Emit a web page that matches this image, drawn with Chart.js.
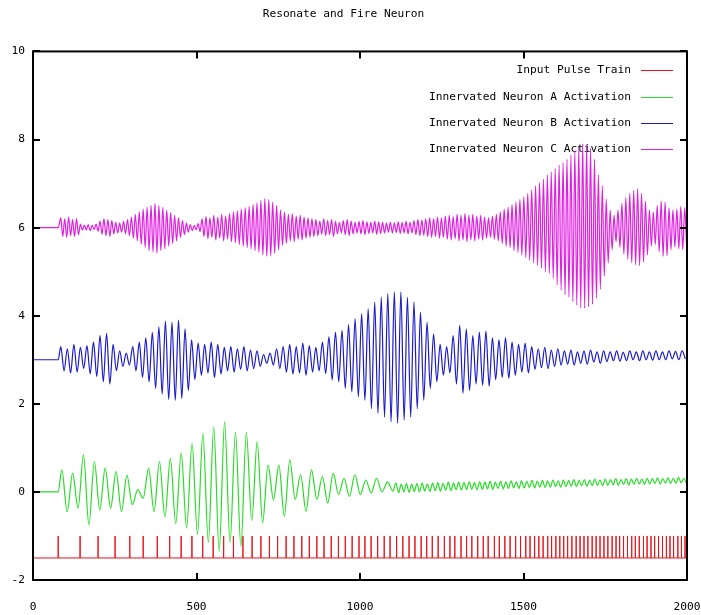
<!DOCTYPE html>
<html>
<head>
<meta charset="utf-8">
<script src="https://cdn.jsdelivr.net/npm/chart.js@4"></script>
<style>
  body { margin: 0; background: #fff; }
  #wrap { width: 701px; height: 615px; position: relative; }
</style>
</head>
<body>
<div id="wrap"><canvas id="chart"></canvas></div>
<script>
const titleText = "Resonate and Fire Neuron";
const seriesLabels = [
  "Input Pulse Train",
  "Innervated Neuron A Activation",
  "Innervated Neuron B Activation",
  "Innervated Neuron C Activation"
];
const seriesColors = ["#e8141a", "#28dc28", "#1a1ac8", "#e020e0"];

const xTicks = [0, 500, 1000, 1500, 2000];
const yTicks = [-2, 0, 2, 4, 6, 8, 10];

// input spikes (time of each pulse), baseline and pulse height
const pulseTimes = [
  77, 144, 199, 251, 296, 337, 380, 418, 453, 486, 519, 551, 583, 613, 642, 670,
  697, 723, 748, 774, 798, 822, 845, 868, 890, 912, 934, 955, 976, 997,
  1015, 1034, 1054, 1074, 1092, 1112, 1131, 1150, 1168, 1187, 1204, 1221, 1239,
  1258, 1275, 1290, 1309, 1326, 1342, 1360, 1377, 1392, 1411, 1426, 1443, 1459,
  1476, 1491, 1507, 1520, 1534, 1547, 1560, 1574, 1586, 1599, 1611, 1623, 1635,
  1648, 1661, 1673, 1685, 1697, 1710, 1722, 1734, 1746, 1758, 1771, 1783, 1794,
  1806, 1818, 1831, 1842, 1854, 1867, 1878, 1890, 1901, 1913, 1925, 1937, 1948,
  1959, 1972, 1983, 1994
];
const pulseBase = -1.5;
const pulseTop = -1.0;

// neuron A: resting level, then peaks/troughs every half period
const restA = 0;
const neuronAStart = 88, neuronAStep = 16.6;
const neuronA = [
  0.50, -0.45, 0.42, -0.37, 0.84, -0.75, 0.69, -0.41, 0.54, -0.37, 0.46, -0.45, 0.38, -0.29, 0.05, -0.14,
  0.54, -0.45, 0.69, -0.57, 0.76, -0.72, 0.88, -0.82, 1.10, -0.97, 1.33, -1.15, 1.47, -1.35, 1.59, -1.15,
  1.36, -1.24, 1.36, -0.65, 1.14, -0.70, 0.61, -0.18, 0.61, -0.55, 0.73, -0.17, 0.39, -0.44, 0.50, -0.17,
  0.35, -0.25, 0.42, -0.06, 0.31, -0.10, 0.39, -0.06, 0.27, -0.02, 0.31, 0.00, 0.23, 0.02
];
const neuronATailStart = 1110, neuronATailStep = 8;
const neuronATail = [
  0.20, -0.02, 0.18, 0.00, 0.19, -0.01, 0.17, 0.01,
  0.19, 0.00, 0.20, 0.02, 0.18, 0.01, 0.20, 0.03,
  0.21, 0.02, 0.19, 0.04, 0.22, 0.03, 0.20, 0.05,
  0.22, 0.04, 0.21, 0.05, 0.23, 0.06, 0.21, 0.05,
  0.23, 0.06, 0.22, 0.07, 0.24, 0.06, 0.22, 0.08,
  0.24, 0.07, 0.23, 0.08, 0.25, 0.09, 0.23, 0.08,
  0.25, 0.09, 0.24, 0.10, 0.26, 0.09, 0.24, 0.11,
  0.26, 0.10, 0.25, 0.11, 0.27, 0.12, 0.25, 0.11,
  0.27, 0.12, 0.26, 0.13, 0.28, 0.12, 0.26, 0.14,
  0.28, 0.13, 0.27, 0.14, 0.29, 0.15, 0.27, 0.14,
  0.29, 0.15, 0.28, 0.16, 0.30, 0.15, 0.28, 0.17,
  0.30, 0.16, 0.29, 0.17, 0.31, 0.18, 0.29, 0.17,
  0.31, 0.18, 0.30, 0.19, 0.32, 0.18, 0.30, 0.20,
  0.32, 0.19, 0.31, 0.20, 0.33, 0.21, 0.31, 0.20
];

// neuron B
const restB = 3;
const neuronBStart = 85, neuronBStep = 10;
const neuronB = [
  3.30, 2.75, 3.25, 2.70, 3.35, 2.72, 3.28, 2.80, 3.32, 2.68, 3.40, 2.62, 3.55, 2.50, 3.60, 2.45,
  3.35, 2.75, 3.20, 2.85, 3.15, 2.88, 3.30, 2.75, 3.40, 2.60, 3.50, 2.50, 3.62, 2.35, 3.75, 2.22,
  3.88, 2.10, 3.85, 2.08, 3.90, 2.12, 3.70, 2.30, 3.45, 2.55, 3.38, 2.65, 3.35, 2.70, 3.40, 2.60,
  3.35, 2.68, 3.28, 2.75, 3.30, 2.72, 3.25, 2.78, 3.30, 2.75, 3.22, 2.80, 3.20, 2.85, 3.12, 2.92,
  3.15, 2.88, 3.25, 2.80, 3.30, 2.72, 3.35, 2.68, 3.30, 2.70, 3.38, 2.65, 3.32, 2.72, 3.28, 2.75,
  3.40, 2.69, 3.52, 2.54, 3.63, 2.50, 3.67, 2.35, 3.80, 2.27, 3.93, 2.16, 4.05, 2.08, 4.16, 1.89,
  4.31, 1.78, 4.42, 1.70, 4.50, 1.59, 4.54, 1.56, 4.54, 1.63, 4.42, 1.70, 4.31, 1.89, 4.08, 2.08,
  3.85, 2.35, 3.59, 2.50, 3.35, 2.65, 3.30, 2.70, 3.55, 2.45, 3.78, 2.24, 3.70, 2.30, 3.55, 2.45,
  3.63, 2.42, 3.65, 2.40, 3.50, 2.55, 3.45, 2.60, 3.50, 2.58, 3.40, 2.65, 3.35, 2.72, 3.38, 2.70,
  3.30, 2.78, 3.25, 2.82, 3.28, 2.80, 3.22, 2.85, 3.25, 2.88, 3.20, 2.90, 3.22, 2.88, 3.18, 2.92,
  3.20, 2.90, 3.22, 2.95, 3.18, 2.92, 3.20, 2.96, 3.18, 2.98, 3.20, 2.97, 3.17, 2.98, 3.20, 3.00,
  3.18, 2.98, 3.20, 3.00, 3.18, 2.99, 3.20, 3.00, 3.18, 3.00, 3.20, 3.02, 3.19, 3.00, 3.20, 3.02
];

// neuron C
const restC = 6;
const neuronCStart = 85, neuronCStep = 6;
const neuronC = [
  6.22, 5.80, 6.20, 5.78, 6.24, 5.82, 6.18, 5.80, 6.20, 5.84,
  6.08, 5.94, 6.06, 5.95, 6.07, 5.93, 6.05, 5.96, 6.08, 5.92,
  6.15, 5.85, 6.20, 5.82, 6.18, 5.80, 6.16, 5.86, 6.12, 5.88, 6.10, 5.90, 6.14, 5.86, 6.18, 5.82,
  6.24, 5.76, 6.30, 5.70, 6.36, 5.62,
  6.42, 5.55, 6.46, 5.48, 6.50, 5.45, 6.55, 5.42, 6.50, 5.48, 6.46, 5.52, 6.40, 5.58,
  6.34, 5.64, 6.28, 5.70, 6.22, 5.78, 6.16, 5.84, 6.10, 5.90,
  6.07, 5.93, 6.05, 5.95, 6.09, 5.91,
  6.20, 5.80, 6.25, 5.75, 6.22, 5.78, 6.28, 5.72, 6.24, 5.76, 6.30, 5.70, 6.26, 5.74, 6.32, 5.68, 6.35, 5.66,
  6.38, 5.62, 6.42, 5.58, 6.45, 5.55, 6.48, 5.52, 6.52, 5.48,
  6.56, 5.44, 6.62, 5.38, 6.66, 5.35, 6.64, 5.36, 6.58, 5.42, 6.50, 5.50,
  6.40, 5.60, 6.35, 5.65, 6.30, 5.70, 6.32, 5.68, 6.26, 5.74, 6.28, 5.72, 6.24, 5.76, 6.22, 5.78, 6.20, 5.80,
  6.18, 5.82, 6.15, 5.85, 6.20, 5.82, 6.16, 5.84, 6.18, 5.80, 6.14, 5.86, 6.12, 5.88, 6.16, 5.84, 6.18, 5.82,
  6.15, 5.86, 6.12, 5.88, 6.14, 5.86, 6.16, 5.84, 6.13, 5.87, 6.12, 5.88, 6.15, 5.85, 6.13, 5.87,
  6.12, 5.88, 6.10, 5.90, 6.12, 5.88, 6.11, 5.89, 6.13, 5.87, 6.12, 5.88, 6.14, 5.86, 6.12, 5.88,
  6.16, 5.84, 6.18, 5.82, 6.17, 5.83, 6.20, 5.80, 6.22, 5.78, 6.20, 5.80, 6.24, 5.76, 6.22, 5.78, 6.26, 5.74,
  6.28, 5.72, 6.25, 5.75, 6.30, 5.70, 6.28, 5.72, 6.32, 5.68, 6.28, 5.72, 6.30, 5.70, 6.26, 5.74,
  6.28, 5.72, 6.24, 5.76, 6.22, 5.78, 6.26, 5.74, 6.30, 5.70, 6.36, 5.64,
  6.42, 5.58, 6.46, 5.55, 6.52, 5.48, 6.58, 5.44, 6.64, 5.38, 6.70, 5.32, 6.78, 5.26, 6.86, 5.20,
  6.95, 5.14, 7.02, 5.08, 7.10, 5.00, 7.20, 4.96, 7.26, 4.85, 7.34, 4.70, 7.42, 4.58, 7.48, 4.48,
  7.55, 4.42, 7.65, 4.32, 7.75, 4.24, 7.84, 4.18, 7.90, 4.17, 7.88, 4.20, 7.80, 4.26,
  7.55, 4.40, 7.20, 4.60, 6.95, 4.90, 6.65, 5.20, 6.40, 5.50,
  6.28, 5.68, 6.40, 5.55, 6.55, 5.40, 6.68, 5.28, 6.78, 5.20, 6.84, 5.16, 6.88, 5.14, 6.78, 5.22, 6.60, 5.38,
  6.40, 5.58, 6.35, 5.62, 6.50, 5.45, 6.60, 5.35, 6.58, 5.36, 6.45, 5.50, 6.40, 5.56, 6.42, 5.52, 6.48, 5.50, 6.45, 5.55
];

const monoFont = '"DejaVu Sans Mono", "Liberation Mono", monospace';

function pulsePoints() {
  const pts = [{ x: xTicks[0], y: pulseBase }];
  pulseTimes.forEach(t => {
    pts.push({ x: t, y: pulseBase }, { x: t, y: pulseTop }, { x: t, y: pulseBase });
  });
  pts.push({ x: xTicks[xTicks.length - 1], y: pulseBase });
  return pts;
}

function neuronPoints(rest, start, step, values, tail) {
  const pts = [{ x: xTicks[0], y: rest }, { x: pulseTimes[0], y: rest }];
  values.forEach((v, i) => pts.push({ x: start + i * step, y: v }));
  if (tail) tail.values.forEach((v, i) => pts.push({ x: tail.start + i * tail.step, y: v }));
  return pts;
}

// legend inside the frame + gnuplot style frame with inward ticks
const framePlugin = {
  id: "frame",
  beforeDatasetsDraw(chart) {
    const { ctx, chartArea } = chart;
    ctx.save();
    ctx.font = "11.2px " + monoFont;
    ctx.textAlign = "right";
    ctx.textBaseline = "middle";
    seriesLabels.forEach((label, i) => {
      const y = Math.round(chartArea.top + 19 + i * 26.3) + 0.5;
      ctx.fillStyle = "#000";
      ctx.fillText(label, chartArea.right - 56, y);
      ctx.strokeStyle = seriesColors[i];
      ctx.lineWidth = 1;
      ctx.beginPath();
      ctx.moveTo(chartArea.right - 46, y);
      ctx.lineTo(chartArea.right - 14, y);
      ctx.stroke();
    });
    ctx.restore();
  },
  afterDatasetsDraw(chart) {
    const { ctx, chartArea, scales } = chart;
    const { left, right, top, bottom } = chartArea;
    ctx.save();
    ctx.strokeStyle = "#000";
    ctx.lineWidth = 2;
    ctx.strokeRect(left, top, right - left, bottom - top);
    ctx.beginPath();
    scales.x.ticks.forEach(t => {
      const px = Math.round(scales.x.getPixelForValue(t.value));
      ctx.moveTo(px, bottom); ctx.lineTo(px, bottom - 7);
      ctx.moveTo(px, top); ctx.lineTo(px, top + 7);
    });
    scales.y.ticks.forEach(t => {
      const py = Math.round(scales.y.getPixelForValue(t.value));
      ctx.moveTo(left, py); ctx.lineTo(left + 7, py);
      ctx.moveTo(right, py); ctx.lineTo(right - 7, py);
    });
    ctx.stroke();
    ctx.restore();
  }
};

const datasets = [
  { data: pulsePoints(), cubicInterpolationMode: "default", tension: 0, borderWidth: 1 },
  { data: neuronPoints(restA, neuronAStart, neuronAStep, neuronA, { start: neuronATailStart, step: neuronATailStep, values: neuronATail }) },
  { data: neuronPoints(restB, neuronBStart, neuronBStep, neuronB) },
  { data: neuronPoints(restC, neuronCStart, neuronCStep, neuronC) }
].map((ds, i) => ({
  label: seriesLabels[i],
  borderColor: seriesColors[i],
  borderWidth: 1.2,
  pointRadius: 0,
  cubicInterpolationMode: "monotone",
  tension: 0.4,
  fill: false,
  order: 4 - i,
  ...ds
}));

new Chart(document.getElementById("chart"), {
  type: "line",
  data: { datasets },
  options: {
    responsive: true,
    maintainAspectRatio: false,
    animation: false,
    events: [],
    layout: { padding: { left: 0, right: 14, top: 0, bottom: 0 } },
    plugins: {
      legend: { display: false },
      tooltip: { enabled: false },
      title: {
        display: true,
        text: titleText,
        color: "#000",
        font: { family: monoFont, size: 11.2, weight: "normal" },
        padding: { top: 7, bottom: 31 }
      }
    },
    scales: {
      x: {
        type: "linear",
        min: xTicks[0],
        max: xTicks[xTicks.length - 1],
        afterBuildTicks: scale => { scale.ticks = xTicks.map(v => ({ value: v })); },
        afterFit: scale => {
          scale.height = 35;
          scale.paddingLeft = 0;
          scale.paddingRight = 0;
        },
        grid: { display: false, drawTicks: false },
        border: { display: false },
        ticks: {
          color: "#000", padding: 20, maxRotation: 0,
          font: { family: monoFont, size: 11.2 },
          callback: v => String(v)
        }
      },
      y: {
        type: "linear",
        min: yTicks[0],
        max: yTicks[yTicks.length - 1],
        afterBuildTicks: scale => { scale.ticks = yTicks.map(v => ({ value: v })); },
        afterFit: scale => {
          scale.width = 33;
          scale.paddingTop = 0;
          scale.paddingBottom = 0;
        },
        grid: { display: false, drawTicks: false },
        border: { display: false },
        ticks: {
          color: "#000", padding: 8,
          font: { family: monoFont, size: 11.2 },
          callback: v => String(v)
        }
      }
    }
  },
  plugins: [framePlugin]
});
</script>
</body>
</html>
